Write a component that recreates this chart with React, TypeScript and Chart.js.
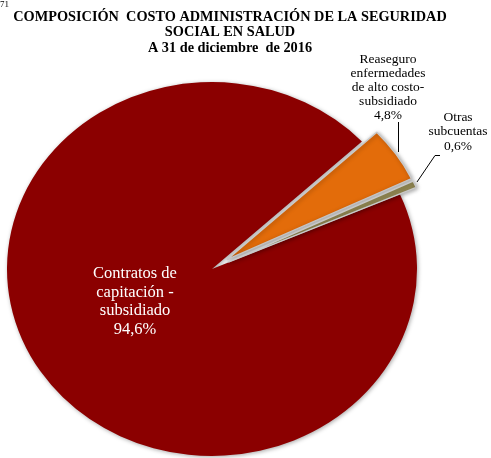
import React, { useEffect, useRef } from 'react';
import { Chart, registerables } from 'chart.js';
Chart.register(...registerables);

const pageNumber = '71';
const titleLines = [
  'COMPOSICIÓN  COSTO ADMINISTRACIÓN DE LA SEGURIDAD',
  'SOCIAL EN SALUD',
  'A 31 de diciembre  de 2016',
];
const categories = [
  'Contratos de capitación - subsidiado',
  'Reaseguro enfermedades de alto costo-subsidiado',
  'Otras subcuentas',
];
const categoryLines = [
  ['Contratos de', 'capitación -', 'subsidiado'],
  ['Reaseguro', 'enfermedades', 'de alto costo-', 'subsidiado'],
  ['Otras', 'subcuentas'],
];
const shares = [94.6, 4.8, 0.6];
const sliceColors = ['#8B0000', '#E36C0A', '#948A54'];

const W = 491;
const H = 458;
const CY = 269;
const SQUASH = 0.912;
const EXPLODE = [0, 18, 18];
const SERIF = '"Liberation Serif", "Times New Roman", serif';

const fmt = (v: number) => v.toFixed(1).replace('.', ',') + '%';

const explodePlugin = {
  id: 'explode',
  afterDatasetsUpdate(chart: any) {
    const meta = chart.getDatasetMeta(0);
    meta.data.forEach((el: any, i: number) => {
      const d = EXPLODE[i] || 0;
      if (!d) return;
      const mid = (el.startAngle + el.endAngle) / 2;
      el.x += Math.cos(mid) * d;
      el.y += Math.sin(mid) * d;
    });
  },
};

const squashPlugin = {
  id: 'squash',
  beforeDatasetsDraw(chart: any) {
    const ctx = chart.ctx;
    ctx.save();
    ctx.translate(0, CY);
    ctx.scale(1, SQUASH);
    ctx.translate(0, -CY);
    ctx.shadowColor = 'rgba(0,0,0,0.35)';
    ctx.shadowBlur = 4;
    ctx.shadowOffsetX = 1;
    ctx.shadowOffsetY = 1;
  },
  afterDatasetsDraw(chart: any) {
    chart.ctx.restore();
  },
};

const textPlugin = {
  id: 'texts',
  afterDraw(chart: any) {
    const ctx = chart.ctx;
    ctx.save();
    ctx.textBaseline = 'middle';
    ctx.fillStyle = '#000';
    ctx.font = `9px ${SERIF}`;
    ctx.textAlign = 'left';
    ctx.fillText(pageNumber, 0, 5);

    ctx.textAlign = 'center';
    ctx.font = `bold 14.3px ${SERIF}`;
    titleLines.forEach((t, i) => ctx.fillText(t, 230, 17 + i * 15.5));

    ctx.fillStyle = '#ffffff';
    ctx.font = `16.5px ${SERIF}`;
    const l0 = [...categoryLines[0], fmt(shares[0])];
    l0.forEach((t, i) => ctx.fillText(t, 135, 274 + i * 18.5));

    ctx.fillStyle = '#000';
    ctx.font = `13.5px ${SERIF}`;
    const l1 = [...categoryLines[1], fmt(shares[1])];
    l1.forEach((t, i) => ctx.fillText(t, 388, 59 + i * 14.2));

    const l2 = [...categoryLines[2], fmt(shares[2])];
    l2.forEach((t, i) => ctx.fillText(t, 458, 117 + i * 14.5));

    ctx.strokeStyle = '#000';
    ctx.lineWidth = 1;
    ctx.beginPath();
    ctx.moveTo(398.5, 122);
    ctx.lineTo(398.5, 152);
    ctx.stroke();
    ctx.beginPath();
    ctx.moveTo(440, 155.5);
    ctx.lineTo(435, 155.5);
    ctx.lineTo(417, 182);
    ctx.stroke();
    ctx.restore();
  },
};

export default function App() {
  const ref = useRef<HTMLCanvasElement | null>(null);
  useEffect(() => {
    if (!ref.current) return;
    const chart = new Chart(ref.current, {
      type: 'pie',
      data: {
        labels: categories,
        datasets: [
          {
            data: shares,
            backgroundColor: sliceColors,
            borderColor: ['#8B0000', '#c9c9c9', '#c9c9c9'],
            borderWidth: [0, 1.5, 1.5],
            clip: false,
          } as any,
        ],
      },
      options: {
        responsive: false,
        animation: false,
        rotation: 66.44,
        radius: 205,
        layout: { padding: { left: 0, right: 67, top: 80, bottom: 0 } },
        plugins: {
          legend: { display: false },
          tooltip: { enabled: false },
          title: { display: false },
        },
      } as any,
      plugins: [explodePlugin, squashPlugin, textPlugin],
    });
    return () => chart.destroy();
  }, []);
  return (
    <div style={{ position: 'fixed', left: 0, top: 0, width: W, height: H, background: '#fff' }}>
      <canvas ref={ref} width={W} height={H} style={{ display: 'block' }} />
    </div>
  );
}
